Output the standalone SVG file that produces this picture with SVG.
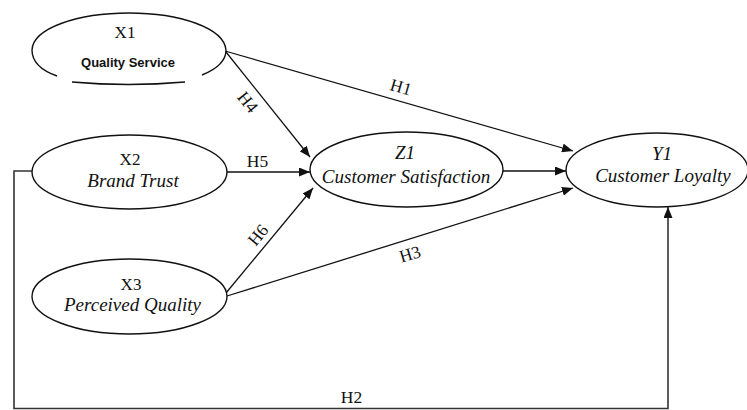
<svg xmlns="http://www.w3.org/2000/svg" width="747" height="410" viewBox="0 0 747 410">
  <defs>
    <marker id="arrow" markerUnits="userSpaceOnUse" markerWidth="11" markerHeight="9" refX="11" refY="4.5" orient="auto">
      <path d="M0,0 L11,4.5 L0,9 Z" fill="#111"/>
    </marker>
    <style>
      .node { fill: #fff; stroke: #111; stroke-width: 1.4; }
      .edge { fill: none; stroke: #111; stroke-width: 1.3; }
      .loop { fill: none; stroke: #333; stroke-width: 1.6; }
      .code { font-family: "Liberation Serif", "Times New Roman", serif; font-size: 17px; fill: #111; text-anchor: middle; }
      .ital { font-family: "Liberation Serif", "Times New Roman", serif; font-style: italic; font-size: 19px; fill: #111; text-anchor: middle; }
      .sans { font-family: "Liberation Sans", Arial, sans-serif; font-weight: bold; font-size: 13px; fill: #111; text-anchor: middle; }
      .hyp { font-family: "Liberation Serif", "Times New Roman", serif; font-size: 17.5px; fill: #111; text-anchor: middle; }
    </style>
  </defs>
  <rect width="747" height="410" fill="#fff"/>

  <!-- connectors -->
  <g id="connectors">
    <line class="edge" x1="225" y1="51" x2="573" y2="151" marker-end="url(#arrow)"/>
    <line class="edge" x1="226" y1="52" x2="310" y2="157" marker-end="url(#arrow)"/>
    <line class="edge" x1="227" y1="172" x2="310" y2="172" marker-end="url(#arrow)"/>
    <line class="edge" x1="226" y1="293" x2="313" y2="188" marker-end="url(#arrow)"/>
    <line class="edge" x1="227" y1="296" x2="573" y2="188" marker-end="url(#arrow)"/>
    <line class="edge" x1="503" y1="171" x2="566" y2="171" marker-end="url(#arrow)"/>
    <path class="loop" d="M32,171 H14 V408.5 H668 V207" marker-end="url(#arrow)"/>

    <text class="hyp" transform="translate(401,87) rotate(16)" y="6">H1</text>
    <text class="hyp" transform="translate(248,102) rotate(51)" y="6">H4</text>
    <text class="hyp" x="257.5" y="167">H5</text>
    <text class="hyp" transform="translate(258,235) rotate(-50.5)" y="6">H6</text>
    <text class="hyp" transform="translate(410,254) rotate(-17)" y="6">H3</text>
    <text class="hyp" x="351.5" y="403">H2</text>
  </g>

  <!-- X1: Quality Service -->
  <g id="x1">
    <path class="node" d="M57,76 C40,70 32,62 32,50 C33,28 78,13 129,13 C180,13 224,28 226,50 C226,61 217,69 202,75" fill="none"/>
    <path class="node" d="M72,82 Q128,87 185,82" fill="none"/>
    <text class="code" x="125" y="38">X1</text>
    <text class="sans" x="128" y="67">Quality Service</text>
  </g>

  <!-- X2: Brand Trust -->
  <g id="x2">
    <ellipse class="node" cx="129.5" cy="172" rx="97.5" ry="37"/>
    <text class="code" x="130" y="165">X2</text>
    <text class="ital" x="133" y="187">Brand Trust</text>
  </g>

  <!-- X3: Perceived Quality -->
  <g id="x3">
    <ellipse class="node" cx="129.5" cy="296.5" rx="97.5" ry="37.5"/>
    <text class="code" x="131" y="289.5">X3</text>
    <text class="ital" x="132.5" y="311">Perceived Quality</text>
  </g>

  <!-- Z1: Customer Satisfaction -->
  <g id="z1">
    <ellipse class="node" cx="406.5" cy="169.5" rx="96.5" ry="37.5"/>
    <text class="ital" x="405" y="159">Z1</text>
    <text class="ital" x="406" y="183">Customer Satisfaction</text>
  </g>

  <!-- Y1: Customer Loyalty -->
  <g id="y1">
    <ellipse class="node" cx="657" cy="170" rx="91" ry="37"/>
    <text class="ital" x="662" y="159.5">Y1</text>
    <text class="ital" x="663" y="182">Customer Loyalty</text>
  </g>
</svg>
